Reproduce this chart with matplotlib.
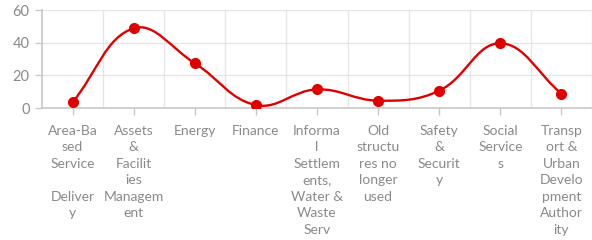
import matplotlib
matplotlib.use("Agg")
import matplotlib.pyplot as plt
from matplotlib.path import Path
from matplotlib.patches import PathPatch
import numpy as np

categories = [
    ["Area-Ba", "sed", "Service", "", "Deliver", "y"],
    ["Assets", "&", "Facilit", "ies", "Managem", "ent"],
    ["Energy"],
    ["Finance"],
    ["Informa", "l", "Settlem", "ents,", "Water &", "Waste", "Serv"],
    ["Old", "structu", "res no", "longer", "used"],
    ["Safety", "&", "Securit", "y"],
    ["Social", "Service", "s"],
    ["Transp", "ort &", "Urban", "Develo", "pment", "Author", "ity"],
]
values = [3.5, 48.8, 27.4, 1.8, 11.4, 4.5, 10.6, 39.6, 8.8]
yticks = [0, 20, 40, 60]

red = "#e00000"
grey = "#8a8a8a"
gridc = "#e6e6e6"

plt.rcParams['font.family'] = ['Lato', 'DejaVu Sans']

fig = plt.figure(figsize=(5.92, 2.40), dpi=100)
ax = fig.add_axes([42 / 592, 1 - 108 / 240, 1 - 42 / 592, 98 / 240])

n = len(values)
x = np.arange(n)
y = np.array(values, dtype=float)

# smooth line like chart.js (tension 0.4), computed in pixel-ish units
sx, sy = 61.4, 98 / 60.0
px, py = x * sx, y * sy
t = 0.4
verts = [(x[0], y[0])]
codes = [Path.MOVETO]
cps = []
for i in range(n):
    p0 = (px[max(i - 1, 0)], py[max(i - 1, 0)])
    p1 = (px[i], py[i])
    p2 = (px[min(i + 1, n - 1)], py[min(i + 1, n - 1)])
    d01 = np.hypot(p1[0] - p0[0], p1[1] - p0[1])
    d12 = np.hypot(p2[0] - p1[0], p2[1] - p1[1])
    tot = d01 + d12
    s01 = d01 / tot if tot else 0
    s12 = d12 / tot if tot else 0
    fa, fb = t * s01, t * s12
    prev_c = (p1[0] - fa * (p2[0] - p0[0]), p1[1] - fa * (p2[1] - p0[1]))
    next_c = (p1[0] + fb * (p2[0] - p0[0]), p1[1] + fb * (p2[1] - p0[1]))
    cps.append((prev_c, next_c))
for i in range(n - 1):
    c1 = cps[i][1]
    c2 = cps[i + 1][0]
    verts += [(c1[0] / sx, c1[1] / sy), (c2[0] / sx, c2[1] / sy), (x[i + 1], y[i + 1])]
    codes += [Path.CURVE4] * 3
ax.add_patch(PathPatch(Path(verts, codes), facecolor="none", edgecolor=red, lw=1.7, zorder=3))
ax.plot(x, y, "o", color=red, ms=7, zorder=4, linestyle="none")

ax.set_xlim(-0.5, n - 0.5)
ax.set_ylim(0, 60)
ax.set_yticks(yticks)
ax.set_xticks(x)
ax.set_xticklabels(["\n".join(c) for c in categories], linespacing=1.45)
ax.set_xticks(np.arange(-0.5, n, 1.0), minor=True)

ax.grid(False)
for v in yticks[1:]:
    ax.axhline(v, color=gridc, lw=1, zorder=0)
for b in np.arange(0.5, n, 1.0):
    ax.axvline(b, color=gridc, lw=1, zorder=0)

for s in ["top", "right"]:
    ax.spines[s].set_visible(False)
for s in ["left", "bottom"]:
    ax.spines[s].set_color("#c8c8c8")
    ax.spines[s].set_linewidth(1.2)

ax.tick_params(axis="both", which="major", colors="#c8c8c8", labelcolor=grey,
               length=5, width=1, labelsize=10)
ax.tick_params(axis="x", pad=7)
ax.tick_params(axis="y", labelsize=10.5, pad=4)
ax.tick_params(axis="x", which="minor", length=0)

fig.savefig("out.png", dpi=100)
